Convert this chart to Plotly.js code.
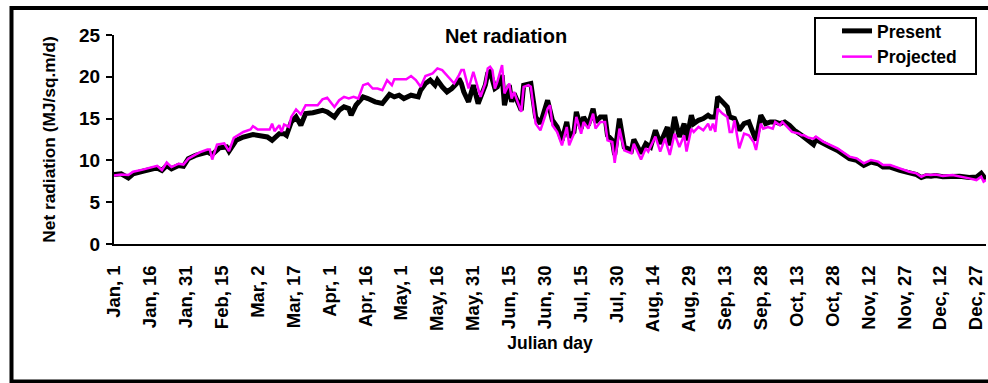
<!DOCTYPE html>
<html>
<head>
<meta charset="utf-8">
<script src="https://cdn.plot.ly/plotly-3.0.1.min.js"></script>
<style>
  html, body { margin: 0; padding: 0; background: #fff; }
  #chart { width: 988px; height: 383px; }
</style>
</head>
<body>
<div id="chart"></div>
<script>
// Daily net radiation (MJ/sq.m/d) by Julian day
const presentDays = [1,4,7,9,13,16,19,21,23,25,28,30,32,35,37,40,42,45,48,49,52,55,59,62,65,67,70,72,73,75,77,79,81,84,86,88,90,93,95,97,99,100,102,105,107,110,113,116,118,120,122,125,128,129,131,133,135,136,138,140,142,144,145,146,147,149,151,153,156,157,158,160,161,163,164,166,167,168,171,172,175,177,179,182,184,186,188,190,191,193,194,196,197,199,201,202,204,206,207,209,210,212,214,217,218,221,223,225,227,229,232,233,235,237,239,240,242,243,245,247,249,250,252,253,255,257,258,260,262,264,266,269,271,273,275,277,279,281,283,285,288,290,291,293,294,297,300,303,306,308,311,314,317,320,322,325,329,331,333,336,338,340,342,344,347,351,354,358,361,363,364,365];
const presentNetRad = [8.3,8.4,7.9,8.4,8.7,8.9,9.1,8.8,9.4,9.0,9.4,9.3,10.2,10.6,10.8,11.0,10.7,11.5,11.6,11.1,12.4,12.8,13.1,13.0,12.8,12.4,13.2,13.2,13.0,14.6,15.2,14.2,15.6,15.7,15.8,16.0,15.8,15.2,16.0,16.4,16.2,15.4,16.6,17.6,17.4,17.0,16.8,17.9,17.6,17.8,17.4,17.8,17.6,18.4,19.2,19.6,19.0,19.6,18.8,18.2,18.6,19.2,19.8,19.2,18.2,17.0,19.0,16.8,19.0,20.4,20.6,18.6,18.8,20.2,16.6,19.0,17.0,18.0,16.0,19.0,19.2,15.2,14.4,17.2,14.8,14.0,12.4,14.6,12.8,13.4,15.8,13.8,15.2,14.2,16.2,14.6,15.2,15.2,13.0,12.4,10.65,15.0,11.6,11.2,12.5,10.85,12.0,11.6,13.6,12.0,14.0,11.8,15.2,12.8,14.4,12.4,15.4,14.4,14.8,15.0,15.4,15.2,15.2,17.6,17.0,16.4,15.2,15.0,13.6,14.4,14.6,12.4,15.4,14.4,14.6,14.6,14.4,14.6,14.2,13.6,13.0,12.6,12.3,11.9,12.5,12.0,11.6,11.2,10.6,10.2,10.0,9.4,9.8,9.6,9.2,9.2,8.8,8.7,8.5,8.3,7.95,8.15,8.1,8.2,8.05,8.15,8.1,7.95,8.0,8.45,8.1,7.7];

const projectedDays = [1,4,7,9,13,16,19,21,23,25,28,30,32,35,37,40,41,42,44,47,49,51,53,55,58,59,61,64,66,67,68,70,71,72,74,75,77,79,81,84,86,88,90,93,95,97,99,101,103,105,107,109,111,113,115,117,118,121,123,125,127,129,131,134,136,138,140,143,145,146,147,149,151,153,154,156,157,158,159,160,161,163,164,166,167,168,171,172,174,175,177,179,182,183,184,186,188,190,191,193,194,196,197,199,201,202,204,206,207,209,210,212,214,217,218,221,223,224,227,229,231,233,235,237,239,240,242,243,245,247,249,250,251,252,253,255,257,258,259,260,262,264,266,268,269,271,272,274,276,277,279,280,282,284,287,288,289,291,293,294,297,300,303,306,308,311,314,317,320,322,325,329,331,333,336,338,340,342,344,347,351,354,358,361,363,364,365];
const projectedNetRad = [8.2,8.3,8.25,8.65,8.9,9.1,9.35,8.85,9.75,9.2,9.6,9.5,10.2,10.7,11.0,11.3,11.3,10.1,11.9,12.05,11.1,12.7,13.1,13.4,13.7,14.1,13.7,13.7,13.7,14.4,13.5,14.2,13.4,14.3,14.0,15.2,16.1,15.5,16.6,16.6,16.6,17.3,17.5,16.4,17.2,17.6,17.4,17.6,17.4,19.0,19.2,18.6,18.6,18.4,19.6,19.0,19.7,19.7,19.7,20.1,19.6,18.8,20.1,20.4,21.0,20.8,20.2,19.2,20.2,20.8,20.8,18.6,20.6,18.4,17.6,19.2,21.0,21.2,20.8,18.6,19.4,21.4,18.0,19.2,17.4,18.2,15.8,18.8,19.0,18.8,14.4,13.6,16.2,16.6,14.2,13.4,11.8,14.0,11.8,13.2,15.2,13.2,14.6,13.8,15.6,13.8,14.6,14.6,12.4,12.2,9.7,13.8,11.2,10.85,12.0,10.1,11.45,11.05,12.85,11.05,12.6,10.65,13.2,11.6,13.0,11.05,13.8,13.4,14.0,13.6,14.4,13.6,14.4,13.4,16.2,15.6,15.2,13.4,13.4,14.8,11.45,13.2,13.0,12.2,11.25,14.4,13.8,14.0,13.8,14.6,14.2,14.6,14.0,13.4,13.2,13.0,13.0,12.7,12.6,12.85,12.25,11.85,11.45,10.85,10.45,10.25,9.65,10.05,9.85,9.45,9.45,9.05,8.85,8.65,8.45,8.05,8.3,8.25,8.3,8.15,8.25,8.1,7.85,7.65,8.05,7.45,7.65];

// Category labels every 15 days
const tickDays = [1,16,31,46,61,76,91,106,121,136,151,166,181,196,211,226,241,256,271,286,301,316,331,346,361];
const tickLabels = ['Jan, 1','Jan, 16','Jan, 31','Feb, 15','Mar, 2','Mar, 17','Apr, 1','Apr, 16','May, 1','May, 16','May, 31','Jun, 15','Jun, 30','Jul, 15','Jul, 30','Aug, 14','Aug, 29','Sep, 13','Sep, 28','Oct, 13','Oct, 28','Nov, 12','Nov, 27','Dec, 12','Dec, 27'];

const FONT = 'Arial, "Liberation Sans", sans-serif';

const traces = [
  {
    x: presentDays, y: presentNetRad, name: 'Present',
    type: 'scatter', mode: 'lines',
    line: { color: '#000000', width: 5 }
  },
  {
    x: projectedDays, y: projectedNetRad, name: 'Projected',
    type: 'scatter', mode: 'lines',
    line: { color: '#FF00FF', width: 2.5 }
  }
];

// plot area spans x 114..986, y 35..244 in page pixels
const L = 114, R = 986, T = 35, B = 244;
const px = v => (v - L) / (R - L);
const py = v => (B - v) / (B - T);

const layout = {
  width: 988, height: 383,
  margin: { l: L, r: 988 - R, t: T, b: 383 - B, pad: 0 },
  paper_bgcolor: '#ffffff', plot_bgcolor: '#ffffff',
  font: { family: FONT, color: '#000000' },
  showlegend: true,
  title: {
    text: '<b>Net radiation</b>',
    font: { family: FONT, size: 20, color: '#000' },
    x: px(506), xref: 'paper', xanchor: 'center',
    y: 1 - 36 / 383, yref: 'container', yanchor: 'middle'
  },
  xaxis: {
    type: 'linear', range: [1, 365],
    tickmode: 'array', tickvals: tickDays, ticktext: tickLabels,
    tickangle: -90, ticks: '', ticklabelstandoff: 12,
    tickfont: { family: FONT, size: 18.5, color: '#000', weight: 'bold' },
    showline: true, linecolor: '#000', linewidth: 2,
    showgrid: false, zeroline: false, automargin: false,
    title: { text: '<b>Julian day</b>', font: { family: FONT, size: 17.5, color: '#000' }, standoff: 6 }
  },
  yaxis: {
    range: [0, 25], tickmode: 'linear', tick0: 0, dtick: 5,
    ticks: 'outside', ticklen: 6, tickwidth: 2, tickcolor: '#000',
    ticklabelstandoff: 2,
    tickfont: { family: FONT, size: 19, color: '#000', weight: 'bold' },
    showline: true, linecolor: '#000', linewidth: 2,
    showgrid: false, zeroline: false, automargin: false,
    title: { text: '<b>Net radiation (MJ/sq.m/d)</b>', font: { family: FONT, size: 17.3, color: '#000' }, standoff: 19 }
  },
  legend: {
    x: px(837), y: py(13), xanchor: 'left', yanchor: 'top',
    bgcolor: 'rgba(0,0,0,0)', borderwidth: 0,
    font: { family: FONT, size: 17.5, color: '#000', weight: 'bold' },
    tracegroupgap: 0
  },
  shapes: [
    // outer chart frame
    { type: 'rect', xref: 'paper', yref: 'paper',
      x0: px(11.5), x1: px(1000), y0: py(381.5), y1: py(8),
      line: { color: '#000', width: 4 }, fillcolor: 'rgba(0,0,0,0)', layer: 'above' },
    // legend box
    { type: 'rect', xref: 'paper', yref: 'paper',
      x0: px(815), x1: px(976), y0: py(74), y1: py(18),
      line: { color: '#000', width: 2 }, fillcolor: '#ffffff', layer: 'above' }
  ]
};

Plotly.newPlot('chart', traces, layout, { staticPlot: true, displayModeBar: false });
</script>
</body>
</html>
